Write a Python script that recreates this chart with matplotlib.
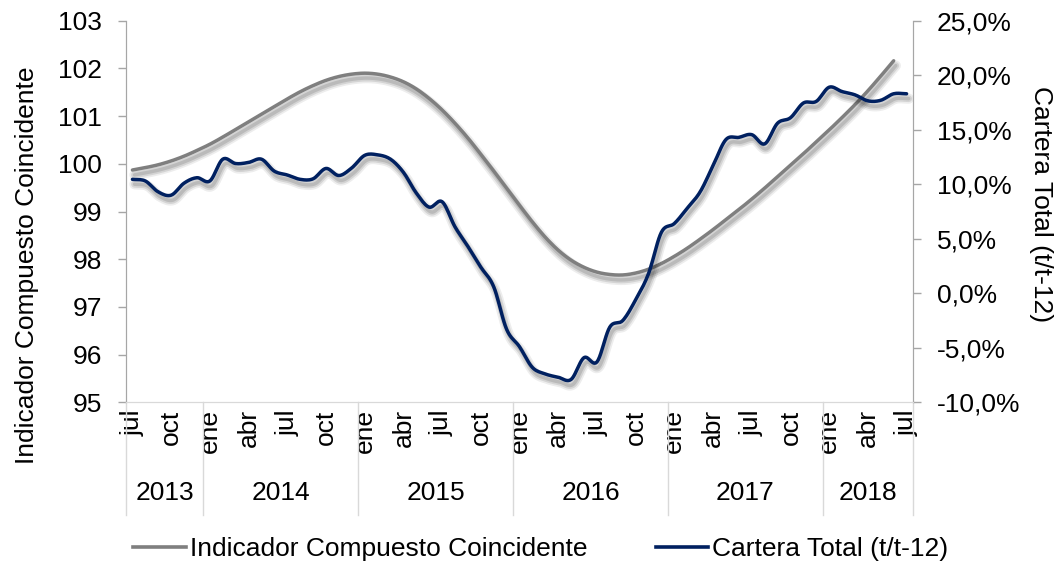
import matplotlib

matplotlib.use("Agg")
import matplotlib.pyplot as plt
import matplotlib.patheffects as pe
import matplotlib.transforms as mtransforms
import numpy as np

plt.rcParams["font.family"] = ["Liberation Sans", "DejaVu Sans"]

# Months from jul 2013 to jul 2018 (index 0 = jul 2013)
month_labels = ["jul", "oct", "ene", "abr", "jul", "oct", "ene", "abr", "jul", "oct",
                "ene", "abr", "jul", "oct", "ene", "abr", "jul", "oct", "ene", "abr", "jul"]
years = ["2013", "2014", "2015", "2016", "2017", "2018"]
year_months = [6, 12, 12, 12, 12, 7]

indicador = [99.87, 99.92, 99.98, 100.06, 100.16, 100.28, 100.41, 100.56, 100.72, 100.88,
             101.04, 101.20, 101.36, 101.51, 101.64, 101.75, 101.83, 101.88, 101.90, 101.88,
             101.82, 101.72, 101.57, 101.37, 101.13, 100.85, 100.54, 100.20, 99.85, 99.49,
             99.13, 98.78, 98.46, 98.19, 97.98, 97.83, 97.73, 97.68, 97.67, 97.71,
             97.79, 97.91, 98.06, 98.23, 98.42, 98.62, 98.83, 99.04, 99.26, 99.49,
             99.73, 99.97, 100.21, 100.46, 100.71, 100.97, 101.24, 101.53, 101.84, 102.16]

cartera = [10.45, 10.3, 9.3, 9.0, 10.1, 10.6, 10.3, 12.3, 11.9, 12.0,
           12.3, 11.2, 10.85, 10.45, 10.5, 11.45, 10.8, 11.5, 12.65, 12.7,
           12.3, 11.1, 9.2, 7.9, 8.4, 6.1, 4.3, 2.4, 0.6, -3.3,
           -4.9, -6.8, -7.4, -7.7, -7.9, -5.9, -6.3, -3.1, -2.5, -0.6,
           1.8, 5.6, 6.4, 7.8, 9.3, 11.7, 14.1, 14.3, 14.55, 13.7,
           15.6, 16.1, 17.45, 17.6, 18.9, 18.5, 18.2, 17.65, 17.7, 18.3,
           18.3]

left_ticks = [95, 96, 97, 98, 99, 100, 101, 102, 103]
right_ticks = [-10, -5, 0, 5, 10, 15, 20, 25]
right_labels = ["-10,0%", "-5,0%", "0,0%", "5,0%", "10,0%", "15,0%", "20,0%", "25,0%"]

GRAY = "#7F7F7F"
NAVY = "#002060"
AXIS = "#A6A6A6"
FS = 19


def smooth(y, n=10):
    """Catmull-Rom curve through the points (like Excel smoothed lines)."""
    y = np.asarray(y, float)
    x = np.arange(len(y), dtype=float)
    py = np.concatenate([[2 * y[0] - y[1]], y, [2 * y[-1] - y[-2]]])
    t = np.linspace(0, 1, n, endpoint=False)
    xs, ys = [], []
    for k in range(len(y) - 1):
        p0, p1, p2, p3 = py[k], py[k + 1], py[k + 2], py[k + 3]
        seg = 0.5 * (2 * p1 + (-p0 + p2) * t + (2 * p0 - 5 * p1 + 4 * p2 - p3) * t ** 2
                     + (-p0 + 3 * p1 - 3 * p2 + p3) * t ** 3)
        xs.append(x[k] + t)
        ys.append(seg)
    xs.append([x[-1]])
    ys.append([y[-1]])
    return np.concatenate(xs), np.concatenate(ys)


def shadow(lw):
    return [
        pe.SimpleLineShadow(offset=(1.5, -3.5), shadow_color="k", alpha=0.07, linewidth=lw + 5),
        pe.SimpleLineShadow(offset=(1.5, -3.5), shadow_color="k", alpha=0.10, linewidth=lw + 2.5),
        pe.SimpleLineShadow(offset=(1.5, -3.5), shadow_color="k", alpha=0.12, linewidth=lw),
        pe.Normal(),
    ]


fig = plt.figure(figsize=(10.56, 5.66), dpi=100)
ax = fig.add_axes([0.1193, 0.2892, 0.7453, 0.6742])
ax2 = ax.twinx()

n_months = len(cartera)
lw = 2.5
gx, gy = smooth(indicador)
bx, by = smooth(cartera)
ax.plot(gx, gy, color=GRAY, lw=lw, solid_capstyle="round", path_effects=shadow(lw), zorder=3)
ax2.plot(bx, by, color=NAVY, lw=lw, solid_capstyle="round", path_effects=shadow(lw), zorder=3)

ax.set_xlim(-0.5, n_months - 0.5)
ax.set_ylim(95, 103)
ax2.set_ylim(-10, 25)
ax.set_yticks(left_ticks)
ax.set_yticklabels([str(v) for v in left_ticks])
ax2.set_yticks(right_ticks)
ax2.set_yticklabels(right_labels)

for a in (ax, ax2):
    a.spines["top"].set_visible(False)
    a.spines["left"].set_color(AXIS)
    a.spines["right"].set_color(AXIS)
    a.spines["bottom"].set_color("#D9D9D9")
    a.tick_params(axis="y", colors=AXIS, labelcolor="black", labelsize=FS, length=6, width=1,
                  pad=11)

# month tick labels every 3 months
ax.set_xticks(np.arange(0, n_months, 3))
ax.set_xticklabels(month_labels, rotation=90, fontsize=FS, va="top", ha="center")
ax.tick_params(axis="x", length=0, pad=5)

# year group labels and separators
trans = mtransforms.blended_transform_factory(ax.transData, ax.transAxes)
bounds = np.concatenate([[0], np.cumsum(year_months)]) - 0.5
for b in bounds:
    ax.plot([b, b], [0, -0.295], transform=trans, color="#D9D9D9", lw=1, clip_on=False)
for k, yr in enumerate(years):
    c = (bounds[k] + bounds[k + 1]) / 2
    ax.text(c, -0.238, yr, transform=trans, ha="center", va="center", fontsize=FS)

ax.set_ylabel("Indicador Compuesto Coincidente", fontsize=FS)
ax.yaxis.set_label_coords(-0.111, 0.36)
ax2.set_ylabel("Cartera Total (t/t-12)", fontsize=FS, rotation=270, va="bottom")
ax2.yaxis.set_label_coords(1.148, 0.52)

h1 = plt.Line2D([], [], color=GRAY, lw=2.6)
h2 = plt.Line2D([], [], color=NAVY, lw=2.6)
fig.legend([h1, h2], ["Indicador Compuesto Coincidente", "Cartera Total (t/t-12)"],
           loc="center", bbox_to_anchor=(0.512, 0.03), ncol=2, frameon=False,
           fontsize=FS, handlelength=2.0, handletextpad=0.15, columnspacing=2.6)

fig.savefig("out.png", dpi=100)
